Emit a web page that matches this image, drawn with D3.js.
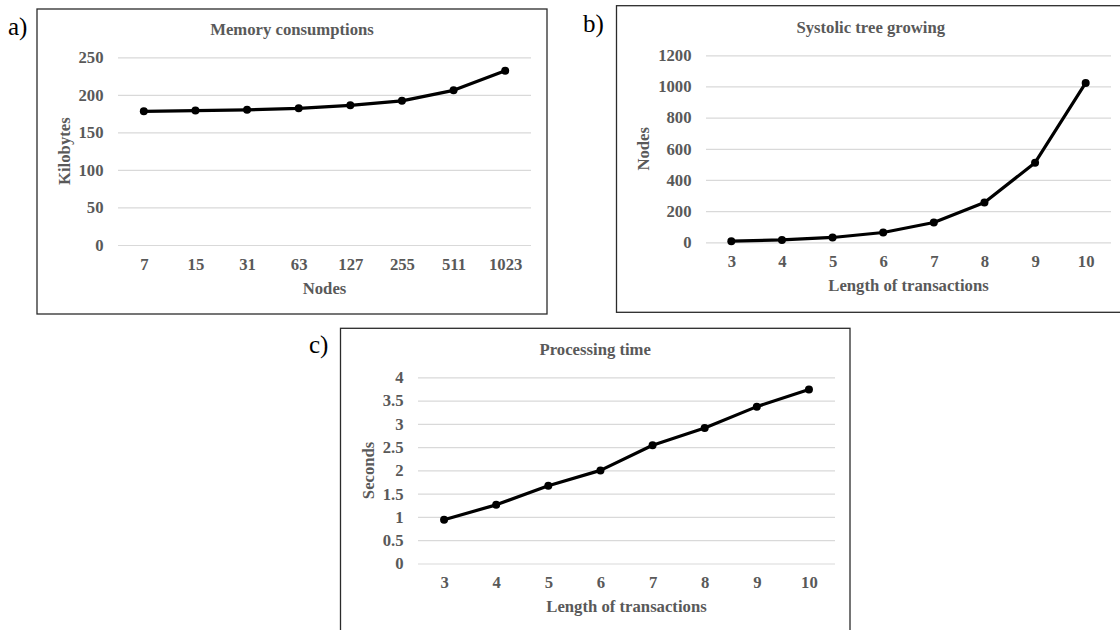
<!DOCTYPE html>
<html>
<head>
<meta charset="utf-8">
<script src="https://cdn.jsdelivr.net/npm/d3@7"></script>
<style>
  html, body { margin: 0; padding: 0; background: #fff; }
  svg { display: block; }
  .tick text { font-family: "Liberation Serif", "Times New Roman", serif; font-weight: bold; fill: #595959; font-size: 16.7px; }
  .chart-title, .axis-title { font-family: "Liberation Serif", "Times New Roman", serif; font-weight: bold; fill: #595959; font-size: 16.7px; }
  .panel-label { font-family: "Liberation Serif", "Times New Roman", serif; fill: #000; font-size: 25px; }
</style>
</head>
<body>
<div id="chart"></div>
<script>
'use strict';

// ── Data ────────────────────────────────────────────────────
// a) memory consumption per tree size
const memoryNodes = ['7', '15', '31', '63', '127', '255', '511', '1023'];
const memoryKB    = [178, 179, 180, 182, 186, 192, 206, 232];
const memoryTicks = [0, 50, 100, 150, 200, 250];

// b) + c) share the transaction-length axis
const txLengths   = ['3', '4', '5', '6', '7', '8', '9', '10'];
const treeNodes   = [7, 15, 31, 63, 127, 255, 511, 1023];
const treeTicks   = [0, 200, 400, 600, 800, 1000, 1200];
const procSeconds = [0.94, 1.26, 1.67, 2.00, 2.54, 2.91, 3.37, 3.74];
const timeTicks   = [0, 0.5, 1, 1.5, 2, 2.5, 3, 3.5, 4];

// ── Panel layout (frame box + plot area, in page pixels) ────
const panels = [
    { tag: 'a)', title: 'Memory consumptions', xTitle: 'Nodes', yTitle: 'Kilobytes',
      cats: memoryNodes, values: memoryKB, ticks: memoryTicks,
      box:  { x0: 37, y0: 9, x1: 547, y1: 314 },
      plot: { x0: 118, x1: 531, top: 57.3, bottom: 245 },
      tagPos: [8, 35], yTitleGap: 53 },
    { tag: 'b)', title: 'Systolic tree growing', xTitle: 'Length of transactions', yTitle: 'Nodes',
      cats: txLengths, values: treeNodes, ticks: treeTicks,
      box:  { x0: 616.5, y0: 5.7, x1: 1125, y1: 312.3 },
      plot: { x0: 706, x1: 1111, top: 55.3, bottom: 242.3 },
      tagPos: [583, 32], yTitleGap: 62 },
    { tag: 'c)', title: 'Processing time', xTitle: 'Length of transactions', yTitle: 'Seconds',
      cats: txLengths, values: procSeconds, ticks: timeTicks,
      box:  { x0: 340.5, y0: 328.3, x1: 850, y1: 660 },
      plot: { x0: 418, x1: 835, top: 377.3, bottom: 563.5 },
      tagPos: [309, 353], yTitleGap: 49 }
];

const svg = d3.select('#chart')
    .append('svg')
    .attr('width', 1120)
    .attr('height', 630);

panels.forEach(p => {
    const W = p.plot.x1 - p.plot.x0;
    const H = p.plot.bottom - p.plot.top;

    // frame
    svg.append('rect')
        .attr('x', p.box.x0)
        .attr('y', p.box.y0)
        .attr('width',  p.box.x1 - p.box.x0)
        .attr('height', p.box.y1 - p.box.y0)
        .attr('fill', 'none')
        .attr('stroke', '#2b2b2b')
        .attr('stroke-width', 1.3);

    // panel letter
    svg.append('text')
        .attr('class', 'panel-label')
        .attr('x', p.tagPos[0])
        .attr('y', p.tagPos[1])
        .text(p.tag);

    // title, centred on the frame
    svg.append('text')
        .attr('class', 'chart-title')
        .attr('x', (p.box.x0 + p.box.x1) / 2)
        .attr('y', p.plot.top - 22)
        .attr('text-anchor', 'middle')
        .text(p.title);

    const g = svg.append('g')
        .attr('transform', `translate(${p.plot.x0},${p.plot.top})`);

    // scales
    const x = d3.scalePoint()
        .domain(p.cats)
        .range([0, W])
        .padding(0.5);

    const y = d3.scaleLinear()
        .domain([0, d3.max(p.ticks)])
        .range([H, 0]);

    // y axis with gridlines
    const yAxis = g.append('g')
        .call(d3.axisLeft(y)
            .tickValues(p.ticks)
            .tickFormat(d => String(d))
            .tickSize(-W)
            .tickPadding(14.5));
    yAxis.select('.domain').remove();
    yAxis.selectAll('.tick line')
        .attr('stroke', '#d9d9d9')
        .attr('stroke-width', 1.2);

    // x axis labels only
    const xAxis = g.append('g')
        .attr('transform', `translate(0,${H})`)
        .call(d3.axisBottom(x).tickSize(0).tickPadding(13));
    xAxis.select('.domain').remove();

    // axis titles
    g.append('text')
        .attr('class', 'axis-title')
        .attr('x', W / 2)
        .attr('y', H + 49)
        .attr('text-anchor', 'middle')
        .text(p.xTitle);

    g.append('text')
        .attr('class', 'axis-title')
        .attr('transform', `translate(${-p.yTitleGap},${H / 2}) rotate(-90)`)
        .attr('text-anchor', 'middle')
        .attr('dy', '0.32em')
        .text(p.yTitle);

    // series
    const pts = p.cats.map((c, i) => ({ c, v: p.values[i] }));

    g.append('path')
        .datum(pts)
        .attr('fill', 'none')
        .attr('stroke', '#000')
        .attr('stroke-width', 3.2)
        .attr('stroke-linejoin', 'round')
        .attr('d', d3.line().x(d => x(d.c)).y(d => y(d.v)));

    g.selectAll('circle.pt')
        .data(pts)
        .join('circle')
        .attr('class', 'pt')
        .attr('cx', d => x(d.c))
        .attr('cy', d => y(d.v))
        .attr('r', 4)
        .attr('fill', '#000');
});
</script>
</body>
</html>
